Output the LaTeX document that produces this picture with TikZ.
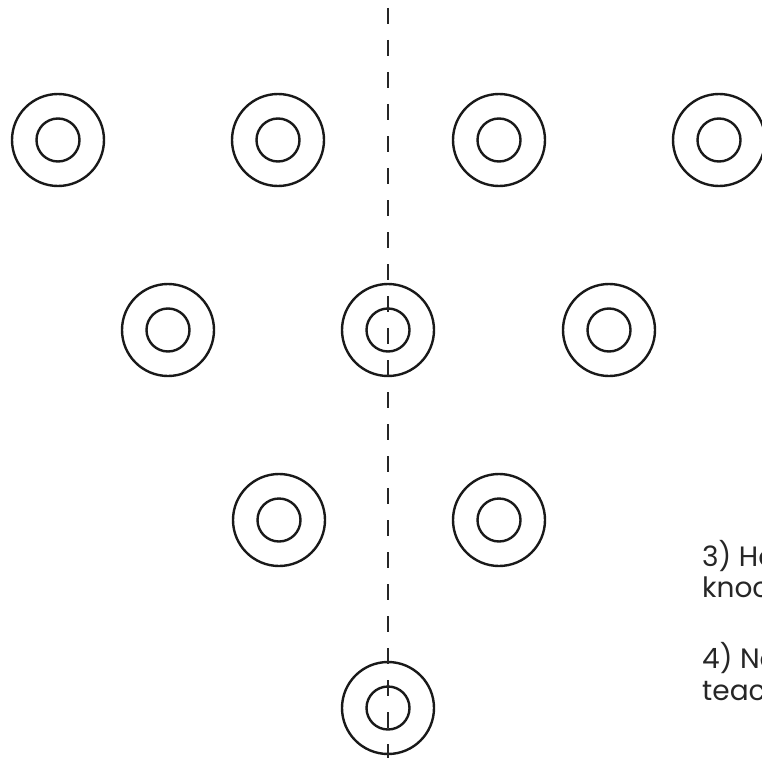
\documentclass[tikz,border=0pt]{standalone}
\usepackage{fontspec}
\setmainfont{Poppins}
\usetikzlibrary{positioning}

\begin{document}
\begin{tikzpicture}[
        x=1pt,y=-1pt,
        pinring/.style={circle,draw=black!90,line width=2.4pt,minimum size=92pt,inner sep=0pt,
          path picture={\draw[black!90,line width=2.4pt] (path picture bounding box.center) circle (21.5pt);}},
        axis/.style={black!85,line width=2pt,dash pattern=on 16pt off 16pt},
        note/.style={anchor=base west,inner sep=0pt,font=\fontsize{28}{32}\selectfont,text=black!85},
      ]
      \useasboundingbox (0,0) rectangle (762,757);
      \clip (0,0) rectangle (762,757);

      % first row
      \node[pinring] (p1) at (58,140) {};
      \node[pinring] (p2) at (278,140) {};
      \node[pinring] (p3) at (499,140) {};
      \node[pinring] (p4) at (719,140) {};
      % second row
      \node[pinring] (p5) at (168,330) {};
      \node[pinring] (p6) at (388,330) {};
      \node[pinring] (p7) at (609,330) {};
      % third row
      \node[pinring] (p8) at (279,520) {};
      \node[pinring] (p9) at (499,520) {};
      % last one
      \node[pinring] (p10) at (388,708) {};

      \coordinate (axtop) at (388,8);
      \coordinate (axbot) at (388,760);
      \draw[axis] (axtop) -- (axbot);

      \node[note] (n3a) at (702,566) {3) Ho};
      \node[note] (n3b) at (702,597) {knoc};
      \node[note] (n4a) at (702,668) {4) No};
      \node[note] (n4b) at (702,700) {teac};
    \end{tikzpicture}
\end{document}
